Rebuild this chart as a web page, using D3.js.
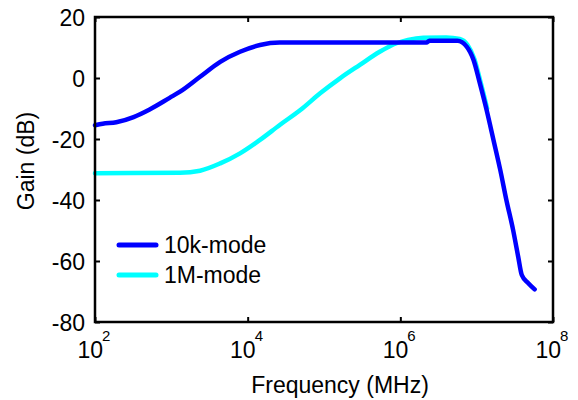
<!DOCTYPE html>
<html>
<head>
<meta charset="utf-8">
<script src="https://cdn.jsdelivr.net/npm/d3@7"></script>
<style>
  body { margin: 0; background: #fff; }
  text { font-family: "Liberation Sans", Arial, sans-serif; fill: #000; }
</style>
</head>
<body>
<svg id="chart" width="578" height="400"></svg>
<script>
// frequency (MHz) and gain (dB)
const freq10k = [1e2, 1.26e2, 1.9e2, 3.2e2, 5.2e2, 9.5e2, 1.3e3, 2.38e3, 4.37e3, 7.94e3, 1.45e4, 2.63e4,
  2.2e6, 2.4e6, 5.6e6, 7.4e6, 9.1e6, 1.1e7, 1.35e7, 1.66e7, 2.04e7, 2.45e7, 3.0e7, 3.5e7, 3.9e7, 4.75e7, 5.75e7];
const gain10k = [-15.5, -15.0, -14.5, -12.8, -10.3, -6.5, -4.5, 0.4, 5.3, 8.6, 10.8, 11.6,
  11.6, 12.2, 12.2, 10.3, 5.9, -1.7, -10.5, -20.3, -30.2, -40, -49.8, -58.6, -64.6, -67.3, -69.3];

const freq1M = [1e2, 1.3e3, 2.38e3, 4.37e3, 7.94e3, 1.45e4, 2.63e4, 4.9e4, 8.9e4, 1.62e5, 2.95e5, 5.37e5,
  8.9e5, 1.26e6, 2e6, 4e6, 6e6, 7.6e6, 9.3e6, 1.12e7, 1.37e7];
const gain1M = [-31.2, -31.1, -30.4, -28.0, -24.7, -20.3, -15.4, -10.5, -5.0, -0.1, 4.3, 8.6,
  11.4, 12.5, 13.2, 13.3, 12.8, 10.8, 6.3, -1.2, -10];

const yTicks = [-80, -60, -40, -20, 0, 20];
const xTicks = [1e2, 1e4, 1e6, 1e8];
const xExponents = ["2", "4", "6", "8"];
const legendNames = ["10k-mode", "1M-mode"];
const colores = ["#0000ff", "#00ffff"];

const svg = d3.select("#chart");
const margem = {left: 95, right: 553, top: 17, bottom: 322};

const x = d3.scaleLog().domain([1e2, 1e8]).range([margem.left, margem.right]);
const y = d3.scaleLinear().domain([-80, 20]).range([margem.bottom, margem.top]);

// axes with inward ticks (box on all four sides)
const eixoEsq = d3.axisLeft(y).tickValues(yTicks).tickSize(-5).tickPadding(10).tickFormat(d => String(d));
const eixoDir = d3.axisRight(y).tickValues(yTicks).tickSize(-5).tickFormat("");
const eixoBaixo = d3.axisBottom(x).tickValues(xTicks).tickSize(-5).tickFormat("");
const eixoTopo = d3.axisTop(x).tickValues(xTicks).tickSize(-5).tickFormat("");

function estilo(g) {
  g.select(".domain").remove();
  g.selectAll(".tick line").attr("stroke", "#000").attr("stroke-width", 2);
  g.selectAll(".tick text").attr("font-size", 23).attr("font-family", "Liberation Sans, Arial, sans-serif").attr("fill", "#000");
}

svg.append("g").attr("transform", `translate(${margem.left},0)`).call(eixoEsq).call(estilo)
  .selectAll(".tick text").attr("dy", "0.36em");
svg.append("g").attr("transform", `translate(${margem.right},0)`).call(eixoDir).call(estilo);
svg.append("g").attr("transform", `translate(0,${margem.bottom})`).call(eixoBaixo).call(estilo);
svg.append("g").attr("transform", `translate(0,${margem.top})`).call(eixoTopo).call(estilo);

// x tick labels as 10^n
const rotulosX = svg.append("g");
xTicks.forEach((t, i) => {
  rotulosX.append("text")
    .attr("x", x(t) + 8).attr("y", 358)
    .attr("text-anchor", "end").attr("font-size", 23)
    .text("10");
  rotulosX.append("text")
    .attr("x", x(t) + 7).attr("y", 341)
    .attr("font-size", 15)
    .text(xExponents[i]);
});

// curves
const linha = d3.line().x(d => x(d[0])).y(d => y(d[1])).curve(d3.curveMonotoneX);
const serie1M = freq1M.map((f, i) => [f, gain1M[i]]);
const serie10k = freq10k.map((f, i) => [f, gain10k[i]]);

const areaPlot = svg.append("g");
areaPlot.append("path").datum(serie1M).attr("d", linha)
  .attr("fill", "none").attr("stroke", colores[1]).attr("stroke-width", 4.5)
  .attr("stroke-linejoin", "round").attr("stroke-linecap", "round");
areaPlot.append("path").datum(serie10k).attr("d", linha)
  .attr("fill", "none").attr("stroke", colores[0]).attr("stroke-width", 4.5)
  .attr("stroke-linejoin", "round").attr("stroke-linecap", "round");

// box
svg.append("rect")
  .attr("x", margem.left).attr("y", margem.top)
  .attr("width", margem.right - margem.left).attr("height", margem.bottom - margem.top)
  .attr("fill", "none").attr("stroke", "#000").attr("stroke-width", 2.5);

// legend
const legenda = svg.append("g");
legendNames.forEach((nome, i) => {
  const ly = 245 + i * 30;
  legenda.append("line")
    .attr("x1", 119).attr("x2", 156).attr("y1", ly).attr("y2", ly)
    .attr("stroke", colores[i]).attr("stroke-width", 5).attr("stroke-linecap", "round");
  legenda.append("text")
    .attr("x", 164).attr("y", ly + 8)
    .attr("font-size", 23)
    .text(nome);
});

// axis titles
svg.append("text")
  .attr("x", 340).attr("y", 393)
  .attr("text-anchor", "middle").attr("font-size", 23)
  .text("Frequency (MHz)");
svg.append("text")
  .attr("transform", "translate(34,161) rotate(-90)")
  .attr("text-anchor", "middle").attr("font-size", 23)
  .text("Gain (dB)");
</script>
</body>
</html>
